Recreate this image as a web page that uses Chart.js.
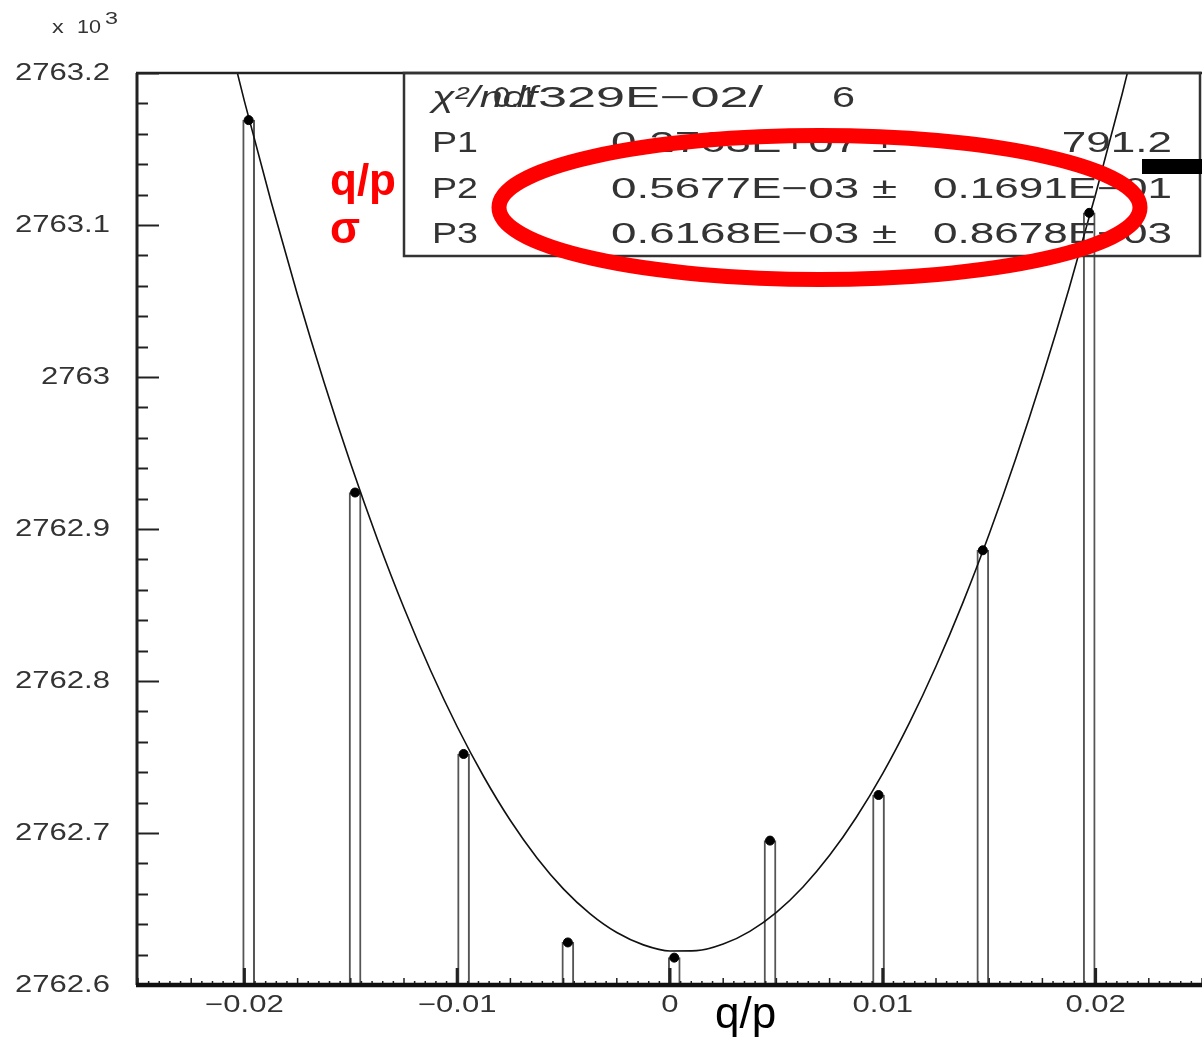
<!DOCTYPE html>
<html>
<head>
<meta charset="utf-8">
<script src="https://cdn.jsdelivr.net/npm/chart.js@4/dist/chart.umd.min.js"></script>
<style>
  html, body { margin: 0; padding: 0; background: #fff; }
  canvas { display: block; }
</style>
</head>
<body>
<canvas id="fitChart" width="1202" height="1038"></canvas>
<script>
// --- data ---
const binCentres = [-0.0198, -0.0148, -0.0097, -0.0048, 0.0002, 0.0047, 0.0098, 0.0147, 0.0197];
const binContents = [2763.169, 2762.924, 2762.752, 2762.628, 2762.618, 2762.695, 2762.725, 2762.886, 2763.108];

// fitted curve, sampled along q/p
const fitX = [-0.0225, -0.02125, -0.02, -0.01875, -0.0175, -0.01625, -0.015, -0.01375, -0.0125, -0.01125,
              -0.01, -0.00875, -0.0075, -0.00625, -0.005, -0.00375, -0.0025, -0.00125, 0, 0.00125,
              0.0025, 0.00375, 0.005, 0.00625, 0.0075, 0.00875, 0.01, 0.01125, 0.0125, 0.01375,
              0.015, 0.01625, 0.0175, 0.01875, 0.02, 0.02125, 0.0225];
const fitY = [2763.3257, 2763.2515, 2763.1815, 2763.1156, 2763.0538, 2762.9962, 2762.9427, 2762.8933, 2762.8480, 2762.8069,
              2762.7699, 2762.7370, 2762.7082, 2762.6836, 2762.6631, 2762.6468, 2762.6345, 2762.6264, 2762.6224, 2762.6226,
              2762.6269, 2762.6353, 2762.6478, 2762.6645, 2762.6853, 2762.7102, 2762.7392, 2762.7724, 2762.8097, 2762.8511,
              2762.8967, 2762.9464, 2763.0002, 2763.0581, 2763.1202, 2763.1864, 2763.2567];

const xTickValues = [-0.02, -0.01, 0, 0.01, 0.02];
const yTickValues = [2762.6, 2762.7, 2762.8, 2762.9, 2763, 2763.1, 2763.2];

const chi2Text = '0.1329E-02';
const ndfText = '6';
const parNames = ['P1', 'P2', 'P3'];
const parValues = ['0.2763E+07', '0.5677E-03', '0.6168E-03'];
const parErrors = ['791.2', '0.1691E-01', '0.8678E-03'];

const PAW_FONT = '"Liberation Sans", Arial, sans-serif';
const INK = '#333';

// PAW text is wide; draw it stretched horizontally
function wideText(ctx, str, x, y, align, font, sx) {
    ctx.save();
    ctx.font = font;
    ctx.translate(x, y);
    ctx.scale(sx, 1);
    ctx.textAlign = align;
    ctx.fillText(str, 0, 0);
    ctx.restore();
}

function fitText(ctx, str, left, right, baseline, font) {
    ctx.save();
    ctx.font = font;
    const w = ctx.measureText(str).width;
    ctx.translate(left, baseline);
    ctx.scale((right - left) / w, 1);
    ctx.textAlign = 'left';
    ctx.textBaseline = 'alphabetic';
    ctx.fillText(str, 0, 0);
    ctx.restore();
}

const minus = s => s.replace(/-/g, '\u2212');

const pawFrame = {
    id: 'pawFrame',
    afterDatasetsDraw(chart) {
        const ctx = chart.ctx;
        const area = chart.chartArea;
        const xs = chart.scales.x;
        const ys = chart.scales.y;

        ctx.save();
        ctx.strokeStyle = '#222';
        ctx.lineCap = 'butt';

        // frame: left axis + top line
        ctx.lineWidth = 3;
        ctx.beginPath();
        ctx.moveTo(area.left - 1, area.bottom);
        ctx.lineTo(area.left - 1, area.top);
        ctx.stroke();
        ctx.lineWidth = 2.5;
        ctx.beginPath();
        ctx.moveTo(area.left - 2, area.top);
        ctx.lineTo(area.right, area.top);
        ctx.stroke();

        // y ticks, inside, every 0.02
        ctx.lineWidth = 2;
        for (let i = 0; i <= 30; i++) {
            const v = ys.min + i * 0.02;
            const py = Math.round(ys.getPixelForValue(v)) + 0.5;
            const len = (i % 5 === 0) ? 21 : 10;
            ctx.beginPath();
            ctx.moveTo(area.left, py);
            ctx.lineTo(area.left + len, py);
            ctx.stroke();
        }

        // x ticks: tiny ones along the thick bottom line
        ctx.lineWidth = 1.5;
        for (let i = 0; i <= 100; i++) {
            const v = xs.min + i * 0.0005;
            const px = xs.getPixelForValue(v);
            const len = (i % 5 === 0) ? 7 : 4;
            ctx.beginPath();
            ctx.moveTo(px, area.bottom);
            ctx.lineTo(px, area.bottom - len);
            ctx.stroke();
        }
        ctx.lineWidth = 3;
        xTickValues.forEach(v => {
            const px = xs.getPixelForValue(v);
            ctx.beginPath();
            ctx.moveTo(px, area.bottom);
            ctx.lineTo(px, area.bottom - 17);
            ctx.stroke();
        });

        // thick bottom axis line
        ctx.strokeStyle = '#111';
        ctx.lineWidth = 4.5;
        ctx.beginPath();
        ctx.moveTo(area.left - 2, area.bottom);
        ctx.lineTo(area.right, area.bottom);
        ctx.stroke();
        ctx.restore();
    },
    afterDraw(chart) {
        const ctx = chart.ctx;
        const area = chart.chartArea;
        const xs = chart.scales.x;
        const ys = chart.scales.y;

        ctx.save();
        ctx.fillStyle = INK;
        ctx.textBaseline = 'middle';

        // tick labels
        yTickValues.forEach(v => {
            wideText(ctx, String(v), area.left - 28, ys.getPixelForValue(v) + 1, 'right',
                '23px ' + PAW_FONT, 1.35);
        });
        xTickValues.forEach(v => {
            wideText(ctx, minus(String(v)), xs.getPixelForValue(v), area.bottom + 21, 'center',
                '23px ' + PAW_FONT, 1.35);
        });

        // exponent label
        ctx.textBaseline = 'alphabetic';
        wideText(ctx, 'x', 52, 33, 'left', '18px ' + PAW_FONT, 1.3);
        fitText(ctx, '10', 77, 101, 33, '18px ' + PAW_FONT);
        fitText(ctx, '3', 105, 118, 24, '17px ' + PAW_FONT);

        // statistics box
        ctx.strokeStyle = '#333';
        ctx.lineWidth = 2.5;
        ctx.strokeRect(404, area.top, 796, 183);

        const f = '29px ' + PAW_FONT;
        fitText(ctx, '\u03c7\u00b2/ndf', 432, 537, 107, 'italic ' + f);
        fitText(ctx, minus(chi2Text).slice(0, 3), 493, 537, 107, f);
        fitText(ctx, minus(chi2Text).slice(3) + '/', 538, 763, 107, f);
        fitText(ctx, ndfText, 832, 855, 107, f);
        const rowBase = [152, 198, 243];
        parNames.forEach((name, i) => {
            const b = rowBase[i];
            fitText(ctx, name, 432, 478, b, f);
            fitText(ctx, minus(parValues[i]) + ' \u00b1', 611, 897, b, f);
            ctx.font = f;
            const w = ctx.measureText(minus(parErrors[i])).width * 1.52;
            fitText(ctx, minus(parErrors[i]), 1172 - w, 1172, b, f);
        });

        // annotations
        ctx.fillStyle = '#ff0000';
        ctx.font = 'bold 44px ' + PAW_FONT;
        ctx.textAlign = 'left';
        ctx.fillText('q/p', 330, 195);
        ctx.fillText('\u03c3', 330, 243);

        ctx.strokeStyle = '#ff0000';
        ctx.lineWidth = 15;
        ctx.beginPath();
        ctx.ellipse(819.5, 207.5, 320.5, 72, 0, 0, Math.PI * 2);
        ctx.stroke();

        ctx.fillStyle = '#000';
        ctx.fillRect(1142, 159, 60, 15);

        ctx.font = '44px ' + PAW_FONT;
        ctx.fillText('q/p', 715, 1028);
        ctx.restore();
    }
};

const ctx = document.getElementById('fitChart').getContext('2d');
new Chart(ctx, {
    type: 'bar',
    data: {
        datasets: [
            {
                type: 'scatter',
                data: binCentres.map((x, i) => ({ x: x, y: binContents[i] })),
                backgroundColor: '#000',
                borderColor: '#000',
                pointRadius: 4.5,
                pointHoverRadius: 4.5,
                order: 0
            },
            {
                type: 'line',
                data: fitX.map((x, i) => ({ x: x, y: fitY[i] })),
                borderColor: '#111',
                borderWidth: 1.6,
                pointRadius: 0,
                cubicInterpolationMode: 'monotone',
                fill: false,
                order: 1
            },
            {
                type: 'bar',
                data: binCentres.map((x, i) => ({ x: x, y: binContents[i] })),
                backgroundColor: '#fff',
                borderColor: '#555',
                borderWidth: 2,
                barThickness: 12,
                order: 2
            }
        ]
    },
    options: {
        responsive: false,
        animation: false,
        devicePixelRatio: 1,
        layout: {
            autoPadding: false,
            padding: { left: 138, top: 73, right: 0, bottom: 53 }
        },
        elements: {
            line: { capBezierPoints: false }
        },
        plugins: {
            legend: { display: false },
            tooltip: { enabled: false }
        },
        scales: {
            x: {
                type: 'linear',
                min: -0.025,
                max: 0.025,
                offset: false,
                display: false
            },
            y: {
                type: 'linear',
                min: 2762.6,
                max: 2763.2,
                display: false
            }
        }
    },
    plugins: [pawFrame]
});
</script>
</body>
</html>
